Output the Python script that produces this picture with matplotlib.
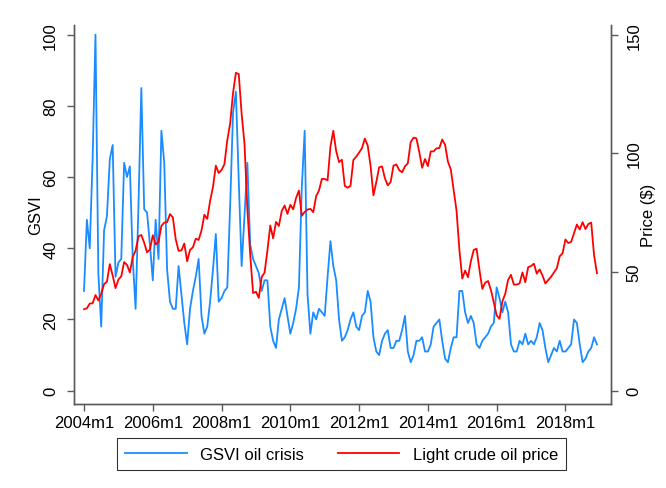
import matplotlib
matplotlib.use("Agg")
import matplotlib.pyplot as plt
from matplotlib.lines import Line2D

plt.rcParams['font.family'] = ['Liberation Sans', 'DejaVu Sans']

# monthly data, 2004m1 .. 2018m12
gsvi = [
    28, 48, 40, 65, 100, 33, 18, 45, 49, 65, 69, 32,   # 2004
    36, 37, 64, 60, 63, 37, 23, 52, 85, 51, 50, 41,    # 2005
    31, 48, 37, 73, 64, 34, 25, 23, 23, 35, 27, 19,    # 2006
    13, 23, 28, 32, 37, 21, 16, 18, 25, 34, 44, 25,    # 2007
    26, 28, 29, 52, 78, 84, 59, 35, 49, 64, 41, 37,    # 2008
    35, 33, 28, 31, 31, 18, 14, 12, 20, 23, 26, 21,    # 2009
    16, 19, 23, 29, 57, 73, 27, 16, 22, 20, 23, 22,    # 2010
    21, 32, 42, 35, 31, 20, 14, 15, 17, 20, 22, 18,    # 2011
    17, 21, 22, 28, 25, 15, 11, 10, 14, 16, 17, 12,    # 2012
    12, 14, 14, 17, 21, 11, 8, 10, 14, 14, 15, 11,     # 2013
    11, 13, 18, 19, 20, 14, 9, 8, 12, 15, 15, 28,      # 2014
    28, 22, 19, 21, 19, 13, 12, 14, 15, 16, 18, 19,    # 2015
    29, 26, 22, 25, 22, 13, 11, 11, 14, 13, 16, 13,    # 2016
    14, 13, 15, 19, 17, 12, 8, 10, 12, 11, 14, 11,     # 2017
    11, 12, 13, 20, 19, 13, 8, 9, 11, 12, 15, 13,      # 2018
]

oil_price = [
    34.3, 34.7, 36.7, 36.8, 40.3, 38.0, 40.8, 44.9, 45.9, 53.3, 48.5, 43.2,
    46.8, 48.2, 54.2, 53.0, 49.8, 56.4, 59.0, 65.0, 65.6, 62.3, 58.3, 59.4,
    65.5, 61.6, 62.7, 69.4, 70.8, 71.0, 74.4, 73.0, 63.8, 58.9, 59.1, 62.0,
    54.5, 59.3, 60.4, 64.0, 63.5, 67.5, 74.1, 72.4, 79.9, 85.8, 94.8, 91.7,
    93.0, 95.4, 105.5, 112.6, 125.4, 133.9, 133.4, 116.7, 104.1, 76.6, 57.3, 41.1,
    41.7, 39.1, 47.9, 49.7, 59.0, 69.6, 64.2, 71.1, 69.4, 75.7, 78.0, 74.5,
    78.3, 76.4, 81.2, 84.3, 73.7, 75.3, 76.3, 76.6, 75.2, 81.9, 84.3, 89.2,
    89.2, 88.6, 102.9, 109.5, 100.9, 96.3, 97.3, 86.3, 85.5, 86.3, 97.2, 98.6,
    100.3, 102.2, 106.2, 103.3, 94.7, 82.3, 87.9, 94.1, 94.5, 89.5, 86.5, 87.9,
    94.8, 95.3, 92.9, 92.0, 94.5, 95.8, 104.7, 106.6, 106.3, 100.5, 93.9, 97.6,
    94.6, 100.8, 100.8, 102.1, 102.2, 105.8, 103.6, 96.5, 93.2, 84.4, 75.8, 59.3,
    47.2, 50.6, 47.8, 54.5, 59.3, 59.8, 50.9, 42.9, 45.5, 46.2, 42.4, 37.2,
    31.7, 30.3, 37.6, 40.8, 46.7, 48.8, 44.7, 44.7, 45.2, 49.8, 45.7, 52.0,
    52.5, 53.5, 49.3, 51.1, 48.5, 45.2, 46.6, 48.0, 49.8, 51.6, 56.6, 57.9,
    63.7, 62.2, 62.7, 66.3, 70.0, 67.9, 71.0, 68.1, 70.2, 70.8, 57.0, 49.5,
]

tick_labels = ['2004m1', '2006m1', '2008m1', '2010m1',
               '2012m1', '2014m1', '2016m1', '2018m1']

months = list(range(len(gsvi)))
blue = '#1a8cff'
red = '#ff0000'
axis_col = '#5a5a5a'

fig = plt.figure(figsize=(6.66, 4.89), dpi=100)
ax = fig.add_axes([0.1104, 0.1718, 0.8070, 0.7750])
ax2 = ax.twinx()

ax.plot(months, gsvi, color=blue, lw=1.3)
ax2.plot(months, oil_price, color=red, lw=1.3)

ax.set_xlim(-3.66, 183.9)
ax.set_ylim(-3.74, 102.7)
ax2.set_ylim(-3.74 * 1.5, 102.7 * 1.5)

ax.set_xticks([24 * i for i in range(len(tick_labels))])
ax.set_xticklabels(tick_labels)
ax.set_yticks([0, 20, 40, 60, 80, 100])
ax2.set_yticks([0, 50, 100, 150])

for a in (ax, ax2):
    a.spines['top'].set_visible(False)
    for s in ('left', 'right', 'bottom'):
        a.spines[s].set_color(axis_col)
        a.spines[s].set_linewidth(1.0)
    a.tick_params(length=5, width=1.0, color=axis_col, labelsize=12,
                  labelcolor='black')

ax.tick_params(axis='x', pad=3)
ax.tick_params(axis='y', pad=6)
ax2.tick_params(axis='y', pad=6)
for lab in ax.get_yticklabels() + ax2.get_yticklabels():
    lab.set_rotation(90)
    lab.set_va('center')

ax.set_ylabel('GSVI', fontsize=12, labelpad=0)
ax2.set_ylabel('Price ($)', fontsize=12, labelpad=0)

handles = [Line2D([], [], color=blue, lw=1.3),
           Line2D([], [], color=red, lw=1.3)]
leg = fig.legend(handles, ['GSVI oil crisis', 'Light crude oil price'],
                 loc='center', bbox_to_anchor=(0.513, 0.0695), ncol=2,
                 fontsize=12, frameon=True, fancybox=False,
                 handlelength=3.7, columnspacing=2.0, borderpad=0.5)
leg.get_frame().set_edgecolor('black')
leg.get_frame().set_linewidth(0.8)

fig.savefig('out.png', dpi=100)
